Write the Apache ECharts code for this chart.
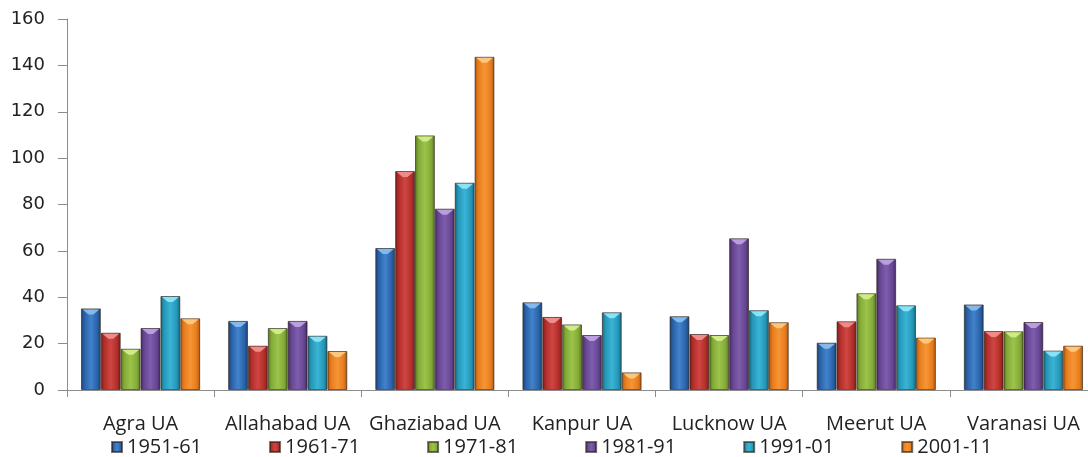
<!DOCTYPE html>
<html>
<head>
<meta charset="utf-8">
<script src="https://cdn.jsdelivr.net/npm/echarts@6/dist/echarts.min.js"></script>
<style>
  html, body { margin: 0; padding: 0; background: #ffffff; }
  #chart { width: 1088px; height: 457px; }
</style>
</head>
<body>
<div id="chart"></div>
<script>
// Decadal growth rate (%) of the urban agglomerations
const cities = ['Agra UA', 'Allahabad UA', 'Ghaziabad UA', 'Kanpur UA', 'Lucknow UA', 'Meerut UA', 'Varanasi UA'];
const periods = ['1951-61', '1961-71', '1971-81', '1981-91', '1991-01', '2001-11'];

const growth1951_61 = [35.2, 29.8, 61.2, 37.8, 31.8, 20.4, 36.9];
const growth1961_71 = [24.7, 19.1, 94.4, 31.5, 24.1, 29.6, 25.4];
const growth1971_81 = [17.8, 26.7, 109.8, 28.3, 23.7, 41.7, 25.3];
const growth1981_91 = [26.7, 29.8, 78.2, 23.7, 65.4, 56.6, 29.3];
const growth1991_01 = [40.5, 23.4, 89.4, 33.5, 34.4, 36.5, 17.0];
const growth2001_11 = [30.9, 16.8, 143.7, 7.6, 29.2, 22.6, 19.1];

const yTicks = { min: 0, max: 160, interval: 20 };

const seriesValues = [growth1951_61, growth1961_71, growth1971_81, growth1981_91, growth1991_01, growth2001_11];

// shaded palette per period: edge, body, centre highlight, bevel cap
const palette = [
  { dark: '#1a4274', main: '#2a62a8', light: '#4283cc', cap: '#8cc0f2' },
  { dark: '#761d1a', main: '#b22e2a', light: '#cf4642', cap: '#f39591' },
  { dark: '#557420', main: '#83aa37', light: '#9cc44b', cap: '#d6f08e' },
  { dark: '#412a5e', main: '#664592', light: '#7e5dad', cap: '#c0a5e6' },
  { dark: '#16657c', main: '#2597b8', light: '#3ab4d6', cap: '#93e8fb' },
  { dark: '#a9560f', main: '#e87c1c', light: '#f69536', cap: '#fdcd86' }
];

const CAT_GAP = 0.19;

function barFill(p) {
  return new echarts.graphic.LinearGradient(0, 0, 1, 0, [
    { offset: 0, color: p.dark },
    { offset: 0.18, color: p.main },
    { offset: 0.5, color: p.light },
    { offset: 0.82, color: p.main },
    { offset: 1, color: p.dark }
  ]);
}

const barSeries = periods.map((name, i) => ({
  name: name,
  type: 'bar',
  data: seriesValues[i],
  barGap: '0%',
  barCategoryGap: (CAT_GAP * 100) + '%',
  itemStyle: {
    color: barFill(palette[i]),
    borderColor: 'rgba(35,25,15,0.6)',
    borderWidth: 1
  },
  emphasis: { disabled: true }
}));

// bevelled cap drawn on top of each bar
const capSeries = periods.map((name, i) => ({
  name: name,
  type: 'custom',
  silent: true,
  z: 3,
  data: seriesValues[i].map((v, c) => [c, v]),
  encode: { x: 0, y: 1 },
  renderItem: function (params, api) {
    const top = api.coord([api.value(0), api.value(1)]);
    const band = api.size([1, 0])[0];
    const groupW = band * (1 - CAT_GAP);
    const barW = groupW / periods.length;
    const x0 = top[0] - groupW / 2 + i * barW;
    const h = 6;
    return {
      type: 'polygon',
      shape: {
        points: [
          [x0 + 1.5, top[1] + 1],
          [x0 + barW - 1.5, top[1] + 1],
          [x0 + barW * 0.62, top[1] + h],
          [x0 + barW * 0.38, top[1] + h]
        ]
      },
      style: { fill: palette[i].cap, opacity: 0.9 }
    };
  }
}));

const chart = echarts.init(document.getElementById('chart'), null, { renderer: 'canvas' });

chart.setOption({
  backgroundColor: '#ffffff',
  animation: false,
  grid: {
    left: 67,
    right: -9,
    top: 19,
    bottom: 67,
    containLabel: false,
    outerBoundsMode: 'none'
  },
  legend: {
    data: periods,
    left: 111,
    top: 437,
    padding: 0,
    icon: 'rect',
    itemWidth: 10,
    itemHeight: 10,
    itemGap: 67,
    textStyle: { fontFamily: 'Open Sans', fontSize: 20, color: '#222222' }
  },
  xAxis: {
    type: 'category',
    data: cities,
    axisLine: { show: true, lineStyle: { color: '#8c8c8c', width: 1 } },
    axisTick: { show: true, length: 7, lineStyle: { color: '#8c8c8c' } },
    axisLabel: {
      fontFamily: 'Open Sans',
      fontSize: 20,
      color: '#222222',
      margin: 24,
      interval: 0
    }
  },
  yAxis: {
    type: 'value',
    min: yTicks.min,
    max: yTicks.max,
    interval: yTicks.interval,
    axisLine: { show: true, lineStyle: { color: '#8c8c8c', width: 1 } },
    axisTick: { show: true, length: 9, lineStyle: { color: '#8c8c8c' } },
    splitLine: { show: false },
    axisLabel: {
      fontFamily: 'DejaVu Sans',
      fontSize: 18,
      color: '#222222',
      margin: 22
    }
  },
  series: barSeries.concat(capSeries)
});
</script>
</body>
</html>
